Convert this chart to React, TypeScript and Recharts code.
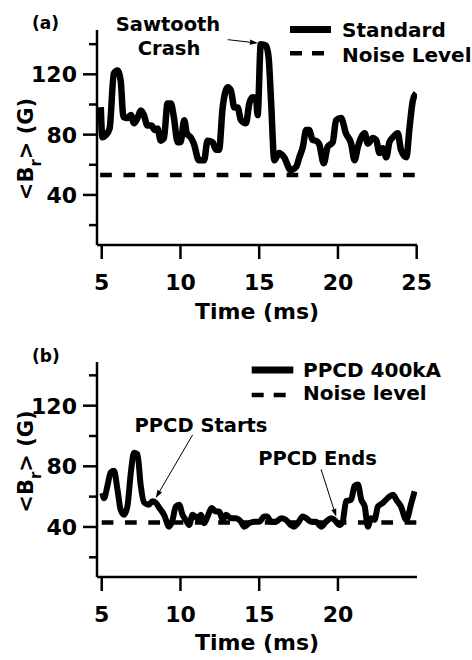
import React from 'react';
import { LineChart, Line, XAxis, YAxis, ReferenceLine, Legend } from 'recharts';

// ---------- Panel (a): Standard discharge ----------
const timeA = [4.94, 5.04, 5.25, 5.5, 5.77, 6.0, 6.2, 6.38, 6.63, 6.85, 7.05, 7.27, 7.48, 7.68, 7.9, 8.16, 8.37, 8.54, 8.75, 8.95, 9.18, 9.39, 9.58, 9.82, 10.0, 10.24, 10.4, 10.66, 10.85, 11.17, 11.5, 11.72, 12.04, 12.25, 12.45, 12.68, 13.0, 13.2, 13.42, 13.63, 13.84, 14.16, 14.37, 14.58, 14.8, 14.9, 15.1, 15.43, 15.6, 15.75, 15.96, 16.26, 16.58, 17.0, 17.35, 17.55, 17.77, 17.98, 18.17, 18.4, 18.6, 18.8, 19.1, 19.35, 19.67, 19.88, 20.2, 20.5, 20.84, 21.05, 21.27, 21.48, 21.7, 21.9, 22.22, 22.43, 22.64, 22.85, 23.07, 23.27, 23.5, 23.8, 24.0, 24.34, 24.55, 24.76, 24.97];
const brA = [98.2, 78.3, 79.6, 84, 120.6, 122.6, 116, 91.6, 91, 93, 87.6, 91, 96, 93, 86, 86, 83, 84, 76, 77.7, 100.6, 100.6, 91.6, 75, 75, 89.6, 81, 78, 74, 63, 63, 76, 75, 70, 70, 98, 111.4, 109.4, 98, 98, 89.6, 87.6, 100.6, 104.8, 104, 93, 140, 139, 131, 103, 63, 67.8, 65, 56.5, 58.7, 65, 71.8, 83, 83, 76.4, 76, 74, 61, 72, 75, 89.6, 91, 81, 74, 63, 72, 78.3, 81, 74, 77.7, 76.4, 67.8, 71, 65, 75, 78.3, 81, 70, 65, 85, 102.8, 107.4];
const noiseTimeA = [4.9, 25.0];
const noiseA = [53.2, 53.2];

// ---------- Panel (b): PPCD 400kA ----------
const timeB = [5.04, 5.15, 5.36, 5.57, 5.78, 6.0, 6.2, 6.42, 6.63, 6.85, 7.05, 7.27, 7.48, 7.7, 8.0, 8.22, 8.43, 8.65, 8.96, 9.28, 9.5, 9.7, 9.92, 10.13, 10.34, 10.55, 10.77, 11.09, 11.3, 11.5, 11.72, 11.98, 12.25, 12.46, 12.68, 12.9, 13.2, 13.5, 13.84, 14.05, 14.37, 14.7, 15.0, 15.32, 15.5, 15.75, 16.07, 16.4, 16.7, 17.0, 17.2, 17.45, 17.77, 17.98, 18.3, 18.6, 18.93, 19.25, 19.57, 19.78, 20.1, 20.3, 20.52, 20.84, 21.05, 21.27, 21.48, 21.7, 21.9, 22.1, 22.32, 22.54, 22.85, 23.17, 23.5, 23.7, 24.0, 24.34, 24.66, 24.87];
const brB = [62.4, 59, 67, 76, 77, 64.7, 51.3, 48, 53.5, 76, 89, 88, 67, 56, 54.7, 57, 56, 52.7, 48, 40.2, 44.7, 53.5, 54.7, 48, 44.7, 41.3, 48, 45.8, 48, 42.5, 46.9, 52.5, 50.2, 50.2, 44.7, 48, 45.8, 45.8, 43.5, 40.2, 42.5, 43.5, 43.5, 46.9, 46.9, 43.5, 43.5, 45.8, 44.7, 41.3, 40.2, 42.5, 46.9, 45.8, 43.5, 43.5, 40.2, 43.5, 45.8, 44.7, 41.3, 43.5, 57, 58, 67, 68, 58, 53.5, 40.2, 45.8, 44.7, 53.5, 55.8, 59.1, 61.3, 58, 53.5, 44.7, 55.8, 63.5];
const noiseTimeB = [5.0, 25.0];
const noiseB = [42.9, 42.9];

// ---------- Axes / labels ----------
const xTicksA = [5, 10, 15, 20, 25];
const xTicksB = [5, 10, 15, 20];
const yTicks = [20, 40, 60, 80, 100, 120, 140];
const yMajor = [40, 80, 120];
const seriesNamesA = ['Standard', 'Noise Level'];
const seriesNamesB = ['PPCD 400kA', 'Noise level'];
const annotationA = { text: ['Sawtooth', 'Crash'], from: { x: 13.0, y: 143 }, to: { x: 14.92, y: 140.7 } };
const annotationB1 = { text: 'PPCD Starts', from: { x: 10.77, y: 100.7 }, to: { x: 8.43, y: 59.1 } };
const annotationB2 = { text: 'PPCD Ends', from: { x: 18.93, y: 78 }, to: { x: 19.89, y: 46.7 } };

const FONT = '"DejaVu Sans", "Liberation Sans", sans-serif';
const W = 472;
const H = 330;
const TICK_SIZE = 14;
const TICK_MARGIN = 7;

const toRows = (t: number[], v: number[]) => t.map((x, i) => ({ t: x, v: v[i] }));

const YTick = (props: any) => {
  const { x, y, payload } = props;
  const axisX = x + TICK_SIZE + TICK_MARGIN;
  const major = yMajor.includes(payload.value);
  const len = major ? 14 : 8;
  return (
    <g>
      <line x1={axisX - len} x2={axisX} y1={y} y2={y} stroke="#000" strokeWidth={2.5} />
      {major && (
        <text x={x + 1} y={y} dy="0.36em" textAnchor="end" fontFamily={FONT} fontWeight="bold" fontSize={22} fill="#000">
          {payload.value}
        </text>
      )}
    </g>
  );
};

const YLabel = (cy: number) => () => {
  const bx = 33;
  return (
    <text
      x={bx}
      y={cy}
      transform={`rotate(-90, ${bx}, ${cy})`}
      textAnchor="middle"
      fontFamily={FONT}
      fontWeight="bold"
      fontSize={21}
      fill="#000"
    >
      {'<B'}
      <tspan dy={8} fontSize={15}>r</tspan>
      <tspan dy={-8}>{'> (G)'}</tspan>
    </text>
  );
};

const Arrow = (props: any) => {
  const { x1, y1, x2, y2 } = props;
  const dx = x2 - x1;
  const dy = y2 - y1;
  const L = Math.sqrt(dx * dx + dy * dy) || 1;
  const ux = dx / L;
  const uy = dy / L;
  const hl = 8;
  const hw = 2.6;
  const bx = x2 - ux * hl;
  const by = y2 - uy * hl;
  const pts = `${x2},${y2} ${bx - uy * hw},${by + ux * hw} ${bx + uy * hw},${by - ux * hw}`;
  return (
    <g>
      <line x1={x1} y1={y1} x2={bx} y2={by} stroke="#000" strokeWidth={1} />
      <polygon points={pts} fill="#000" />
    </g>
  );
};

const LegendBox = ({ names, solidX, textX, rows }: { names: string[]; solidX: [number, number]; textX: number; rows: [number, number][] }) => (
  <svg width={220} height={60} style={{ display: 'block', overflow: 'visible' }}>
    <line x1={solidX[0]} x2={solidX[1]} y1={rows[0][0]} y2={rows[0][0]} stroke="#000" strokeWidth={7} />
    <text x={textX} y={rows[0][1]} fontFamily={FONT} fontWeight="bold" fontSize={20} fill="#000">{names[0]}</text>
    <line x1={solidX[0]} x2={solidX[0] + 34} y1={rows[1][0]} y2={rows[1][0]} stroke="#000" strokeWidth={4.5} strokeDasharray="12 10" />
    <text x={textX} y={rows[1][1]} fontFamily={FONT} fontWeight="bold" fontSize={20} fill="#000">{names[1]}</text>
  </svg>
);

const axisStyle = { stroke: '#000', strokeWidth: 2.5 };
const xTickStyle = { fill: '#000', fontSize: 22, fontWeight: 'bold', fontFamily: FONT };

const txt = (x: number, y: number, s: string, size = 19.5, anchor: 'start' | 'middle' | 'end' = 'middle') => (
  <text x={x} y={y} textAnchor={anchor} fontFamily={FONT} fontWeight="bold" fontSize={size} fill="#000">{s}</text>
);

export default function App() {
  const dataA = toRows(timeA, brA);
  const noiseDataA = toRows(noiseTimeA, noiseA);
  const dataB = toRows(timeB, brB);
  const noiseDataB = toRows(noiseTimeB, noiseB);

  return (
    <div style={{ position: 'absolute', left: 0, top: 0, width: W, height: 2 * H, background: '#fff' }}>
      <div style={{ position: 'absolute', left: 0, top: 0 }}>
        <LineChart width={W} height={H} margin={{ top: 30, right: 55, bottom: 0, left: 0 }}>
          <XAxis
            dataKey="t"
            type="number"
            domain={[4.7, 25.02]}
            ticks={xTicksA}
            allowDataOverflow
            height={85}
            tickSize={TICK_SIZE}
            tickMargin={15}
            axisLine={axisStyle}
            tickLine={axisStyle}
            tick={xTickStyle}
            label={{ value: 'Time (ms)', position: 'insideBottom', offset: 11, fill: '#000', fontSize: 22, fontWeight: 'bold', fontFamily: FONT }}
          />
          <YAxis
            type="number"
            domain={[6.8, 149.4]}
            ticks={yTicks}
            allowDataOverflow
            width={97}
            tickSize={TICK_SIZE}
            tickMargin={TICK_MARGIN}
            axisLine={axisStyle}
            tickLine={false}
            tick={YTick}
            label={{ content: YLabel(149) }}
          />
          <Line data={noiseDataA} dataKey="v" name={seriesNamesA[1]} stroke="#000" strokeWidth={4.5} strokeDasharray="11.7 11.6" dot={false} isAnimationActive={false} />
          <Line data={dataA} dataKey="v" name={seriesNamesA[0]} type="monotone" stroke="#000" strokeWidth={6.5} strokeLinejoin="round" dot={false} isAnimationActive={false} />
          <ReferenceLine segment={[annotationA.from, annotationA.to]} shape={Arrow} ifOverflow="visible" />
          <Legend
            layout="vertical"
            align="center"
            verticalAlign="middle"
            wrapperStyle={{ top: 10, left: 285, width: 190, height: 60 }}
            content={() => <LegendBox names={seriesNamesA} solidX={[5, 46]} textX={57} rows={[[19.5, 26.7], [43.3, 51.7]]} />}
          />
        </LineChart>
      </div>
      <div style={{ position: 'absolute', left: 0, top: H }}>
        <LineChart width={W} height={H} margin={{ top: 32, right: 55, bottom: 0, left: 0 }}>
          <XAxis
            dataKey="t"
            type="number"
            domain={[4.7, 25.02]}
            ticks={xTicksB}
            allowDataOverflow
            height={83}
            tickSize={TICK_SIZE}
            tickMargin={15}
            axisLine={axisStyle}
            tickLine={axisStyle}
            tick={xTickStyle}
            label={{ value: 'Time (ms)', position: 'insideBottom', offset: 10, fill: '#000', fontSize: 22, fontWeight: 'bold', fontFamily: FONT }}
          />
          <YAxis
            type="number"
            domain={[7, 148.8]}
            ticks={yTicks}
            allowDataOverflow
            width={97}
            tickSize={TICK_SIZE}
            tickMargin={TICK_MARGIN}
            axisLine={axisStyle}
            tickLine={false}
            tick={YTick}
            label={{ content: YLabel(131.5) }}
          />
          <Line data={noiseDataB} dataKey="v" name={seriesNamesB[1]} stroke="#000" strokeWidth={4.5} strokeDasharray="11.7 11.6" dot={false} isAnimationActive={false} />
          <Line data={dataB} dataKey="v" name={seriesNamesB[0]} type="monotone" stroke="#000" strokeWidth={6} strokeLinejoin="round" dot={false} isAnimationActive={false} />
          <ReferenceLine segment={[annotationB1.from, annotationB1.to]} shape={Arrow} ifOverflow="visible" />
          <ReferenceLine segment={[annotationB2.from, annotationB2.to]} shape={Arrow} ifOverflow="visible" />
          <Legend
            layout="vertical"
            align="center"
            verticalAlign="middle"
            wrapperStyle={{ top: 25, left: 245, width: 220, height: 60 }}
            content={() => <LegendBox names={seriesNamesB} solidX={[6.7, 48.3]} textX={58} rows={[[15, 21.7], [40, 45]]} />}
          />
        </LineChart>
      </div>
      <svg width={W} height={2 * H} style={{ position: 'absolute', left: 0, top: 0, pointerEvents: 'none' }}>
        {txt(32, 28.5, '(a)', 17, 'start')}
        {txt(168, 30.5, annotationA.text[0])}
        {txt(169, 55, annotationA.text[1])}
        {txt(32, 362, '(b)', 17, 'start')}
        {txt(201, 432, annotationB1.text)}
        {txt(317.5, 465, annotationB2.text)}
      </svg>
    </div>
  );
}
